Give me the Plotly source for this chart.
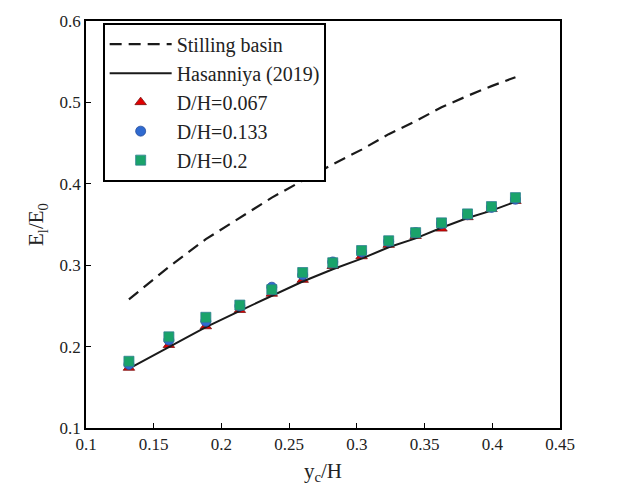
import plotly.graph_objects as go

x_vals = [0.1317, 0.1612, 0.1885, 0.2136, 0.2372, 0.2600, 0.2822, 0.3035,
          0.3235, 0.3434, 0.3625, 0.3817, 0.3994, 0.4171]
stilling_basin = [0.258, 0.298, 0.332, 0.358, 0.383, 0.404, 0.424, 0.442,
                  0.461, 0.477, 0.494, 0.508, 0.520, 0.531]
hasanniya = [0.173, 0.200, 0.224, 0.244, 0.262, 0.280, 0.295, 0.308,
             0.322, 0.333, 0.346, 0.358, 0.367, 0.378]
dh_0067 = [0.174, 0.202, 0.225, 0.245, 0.265, 0.282, 0.299, 0.311,
           0.325, 0.336, 0.345, 0.359, 0.369, 0.379]
dh_0133 = [0.178, 0.208, 0.231, 0.250, 0.273, 0.288, 0.304, 0.316,
           0.329, 0.340, 0.351, 0.362, 0.371, 0.381]
dh_02 = [0.182, 0.212, 0.236, 0.251, 0.270, 0.291, 0.303, 0.318,
         0.330, 0.340, 0.352, 0.363, 0.372, 0.383]

x_ticks = [0.1, 0.15, 0.2, 0.25, 0.3, 0.35, 0.4, 0.45]
x_tick_labels = ["0.1", "0.15", "0.2", "0.25", "0.3", "0.35", "0.4", "0.45"]
y_ticks = [0.1, 0.2, 0.3, 0.4, 0.5, 0.6]
y_tick_labels = ["0.1", "0.2", "0.3", "0.4", "0.5", "0.6"]

FONT = "Liberation Serif, Times New Roman, serif"

fig = go.Figure()
fig.add_trace(go.Scatter(x=x_vals, y=stilling_basin, mode="lines", name="Stilling basin",
                         line=dict(color="#1a1a1a", width=2.2, dash="12px,7px"), legendrank=1))
fig.add_trace(go.Scatter(x=x_vals, y=dh_0067, mode="markers", name="D/H=0.067",
                         marker=dict(symbol="triangle-up", size=10, color="#e00000",
                                     line=dict(color="#7a1010", width=0.8)), legendrank=3))
fig.add_trace(go.Scatter(x=x_vals, y=hasanniya, mode="lines", name="Hasanniya (2019)",
                         line=dict(color="#1a1a1a", width=2), legendrank=2))
fig.add_trace(go.Scatter(x=x_vals, y=dh_0133, mode="markers", name="D/H=0.133",
                         marker=dict(symbol="circle", size=10, color="#2f6ad0",
                                     line=dict(color="#2a4f9a", width=0.8)), legendrank=4))
fig.add_trace(go.Scatter(x=x_vals, y=dh_02, mode="markers", name="D/H=0.2",
                         marker=dict(symbol="square", size=10, color="#1aa36a",
                                     line=dict(color="#2d7f90", width=0.8)), legendrank=5))

axis_common = dict(showgrid=False, zeroline=False, showline=True, linecolor="black",
                   linewidth=1.6, mirror=True, ticks="inside", ticklen=5, tickwidth=1.3,
                   tickcolor="black", tickfont=dict(family=FONT, size=17, color="#222"))

fig.update_xaxes(range=[0.1, 0.45], tickvals=x_ticks, ticktext=x_tick_labels,
                 title=dict(text="y<sub>c</sub>/H", font=dict(family=FONT, size=21, color="#222"),
                            standoff=10),
                 **axis_common)
fig.update_yaxes(range=[0.1, 0.6], tickvals=y_ticks, ticktext=y_tick_labels,
                 title=dict(text="E<sub>l</sub>/E<sub>0</sub>", font=dict(family=FONT, size=21, color="#222"),
                            standoff=10),
                 **axis_common)

fig.update_layout(
    width=628, height=497,
    margin=dict(l=86, r=68, t=12, b=69),
    paper_bgcolor="white", plot_bgcolor="white",
    showlegend=True,
    legend=dict(x=0.036, y=0.995, xanchor="left", yanchor="top",
                bgcolor="white", bordercolor="black", borderwidth=1.6,
                font=dict(family=FONT, size=20, color="#222"),
                tracegroupgap=0, itemwidth=62),
)

fig.write_html("out.html")
